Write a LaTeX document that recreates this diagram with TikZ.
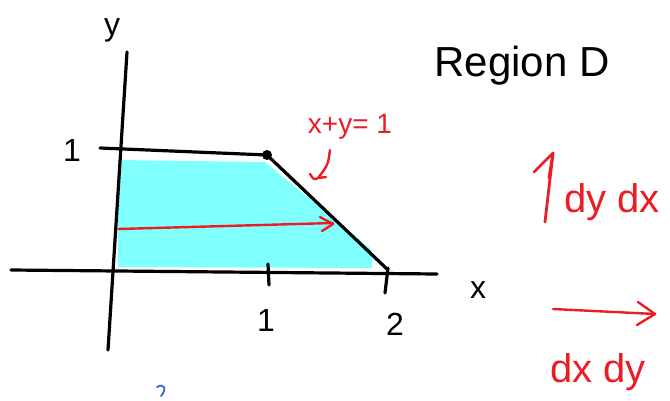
\documentclass[tikz,border=0pt]{standalone}
\usepackage{fontspec}
\setmainfont{Liberation Sans}
\definecolor{lightcyan}{RGB}{128,255,255}
\definecolor{penred}{RGB}{236,28,36}
\definecolor{penblue}{RGB}{50,100,200}
\begin{document}
\begin{tikzpicture}[x=1pt,y=-1pt,line cap=round,line join=round,
  ink/.style={line width=3.2pt,black},
  redink/.style={line width=2.4pt,penred},
  lbl/.style={inner sep=0pt,font=\fontsize{32}{34}\selectfont},
  redlbl/.style={inner sep=0pt,text=penred}]
\useasboundingbox (0,0) rectangle (670,400);
% region
\fill[lightcyan] (118,160) -- (265,162) -- (372,250) -- (372,268) -- (118,267) -- cycle;
% axes
\coordinate (yt) at (127,52);
\coordinate (yb) at (108,350);
\coordinate (xl) at (11,270);
\coordinate (xr) at (437,274);
\draw[ink] (yt) -- (yb);
\draw[ink] (xl) -- (xr);
% ticks
\draw[ink] (268,264) -- (269,285);
\draw[ink] (388,268) -- (385,293);
% boundary
\coordinate (ytick) at (100,148);
\coordinate (corner) at (267,155);
\coordinate (xend) at (387,269);
\draw[ink] (ytick) -- (corner);
\draw[ink] (corner) -- (xend);
\fill (corner) circle (5);
% labels
\node[lbl] (ly) at (112,30) {y};
\node[lbl] (lx) at (478,290) {x};
\node[lbl] (l1y) at (72,150) {1};
\node[lbl] (l1x) at (266,320) {1};
\node[lbl] (l2x) at (395,324) {2};
\node[lbl,font=\fontsize{42}{44}\selectfont] (reg) at (522,66) {Region D};
% red arrow in region
\coordinate (ra1) at (118,229);
\coordinate (ra2) at (333,223);
\draw[redink] (ra1) -- (ra2);
\draw[redink] (320,217) -- (333,224) -- (322,231);
% x+y=1
\node[redlbl,font=\fontsize{28}{30}\selectfont] (eq) at (350,127) {x+y= 1};
\coordinate (ea) at (318,178);
\draw[redink] (330,150) .. controls (328,165) .. (ea);
\draw[redink] (310,174) .. controls (314,180) .. (ea) .. controls (322,178) .. (326,177);
% dy dx
\coordinate (ua1) at (545,222);
\coordinate (ua2) at (553,153);
\draw[redink,line width=2.8pt] (ua1) -- (ua2);
\draw[redink,line width=2.8pt] (534,172) -- (553,153) -- (549,178);
\node[redlbl,font=\fontsize{40}{42}\selectfont] (dydx) at (612,202) {dy dx};
% dx dy
\coordinate (ha1) at (553,309);
\coordinate (ha2) at (655,314);
\draw[redink] (ha1) -- (ha2);
\draw[redink] (638,302) -- (655,314) -- (637,325);
\node[redlbl,font=\fontsize{40}{42}\selectfont] (dxdy) at (598,372) {dx dy};
% blue mark
\draw[line width=1.8pt,penblue] (157,387) .. controls (163,383) and (168,388) .. (161,396);
\end{tikzpicture}
\end{document}
